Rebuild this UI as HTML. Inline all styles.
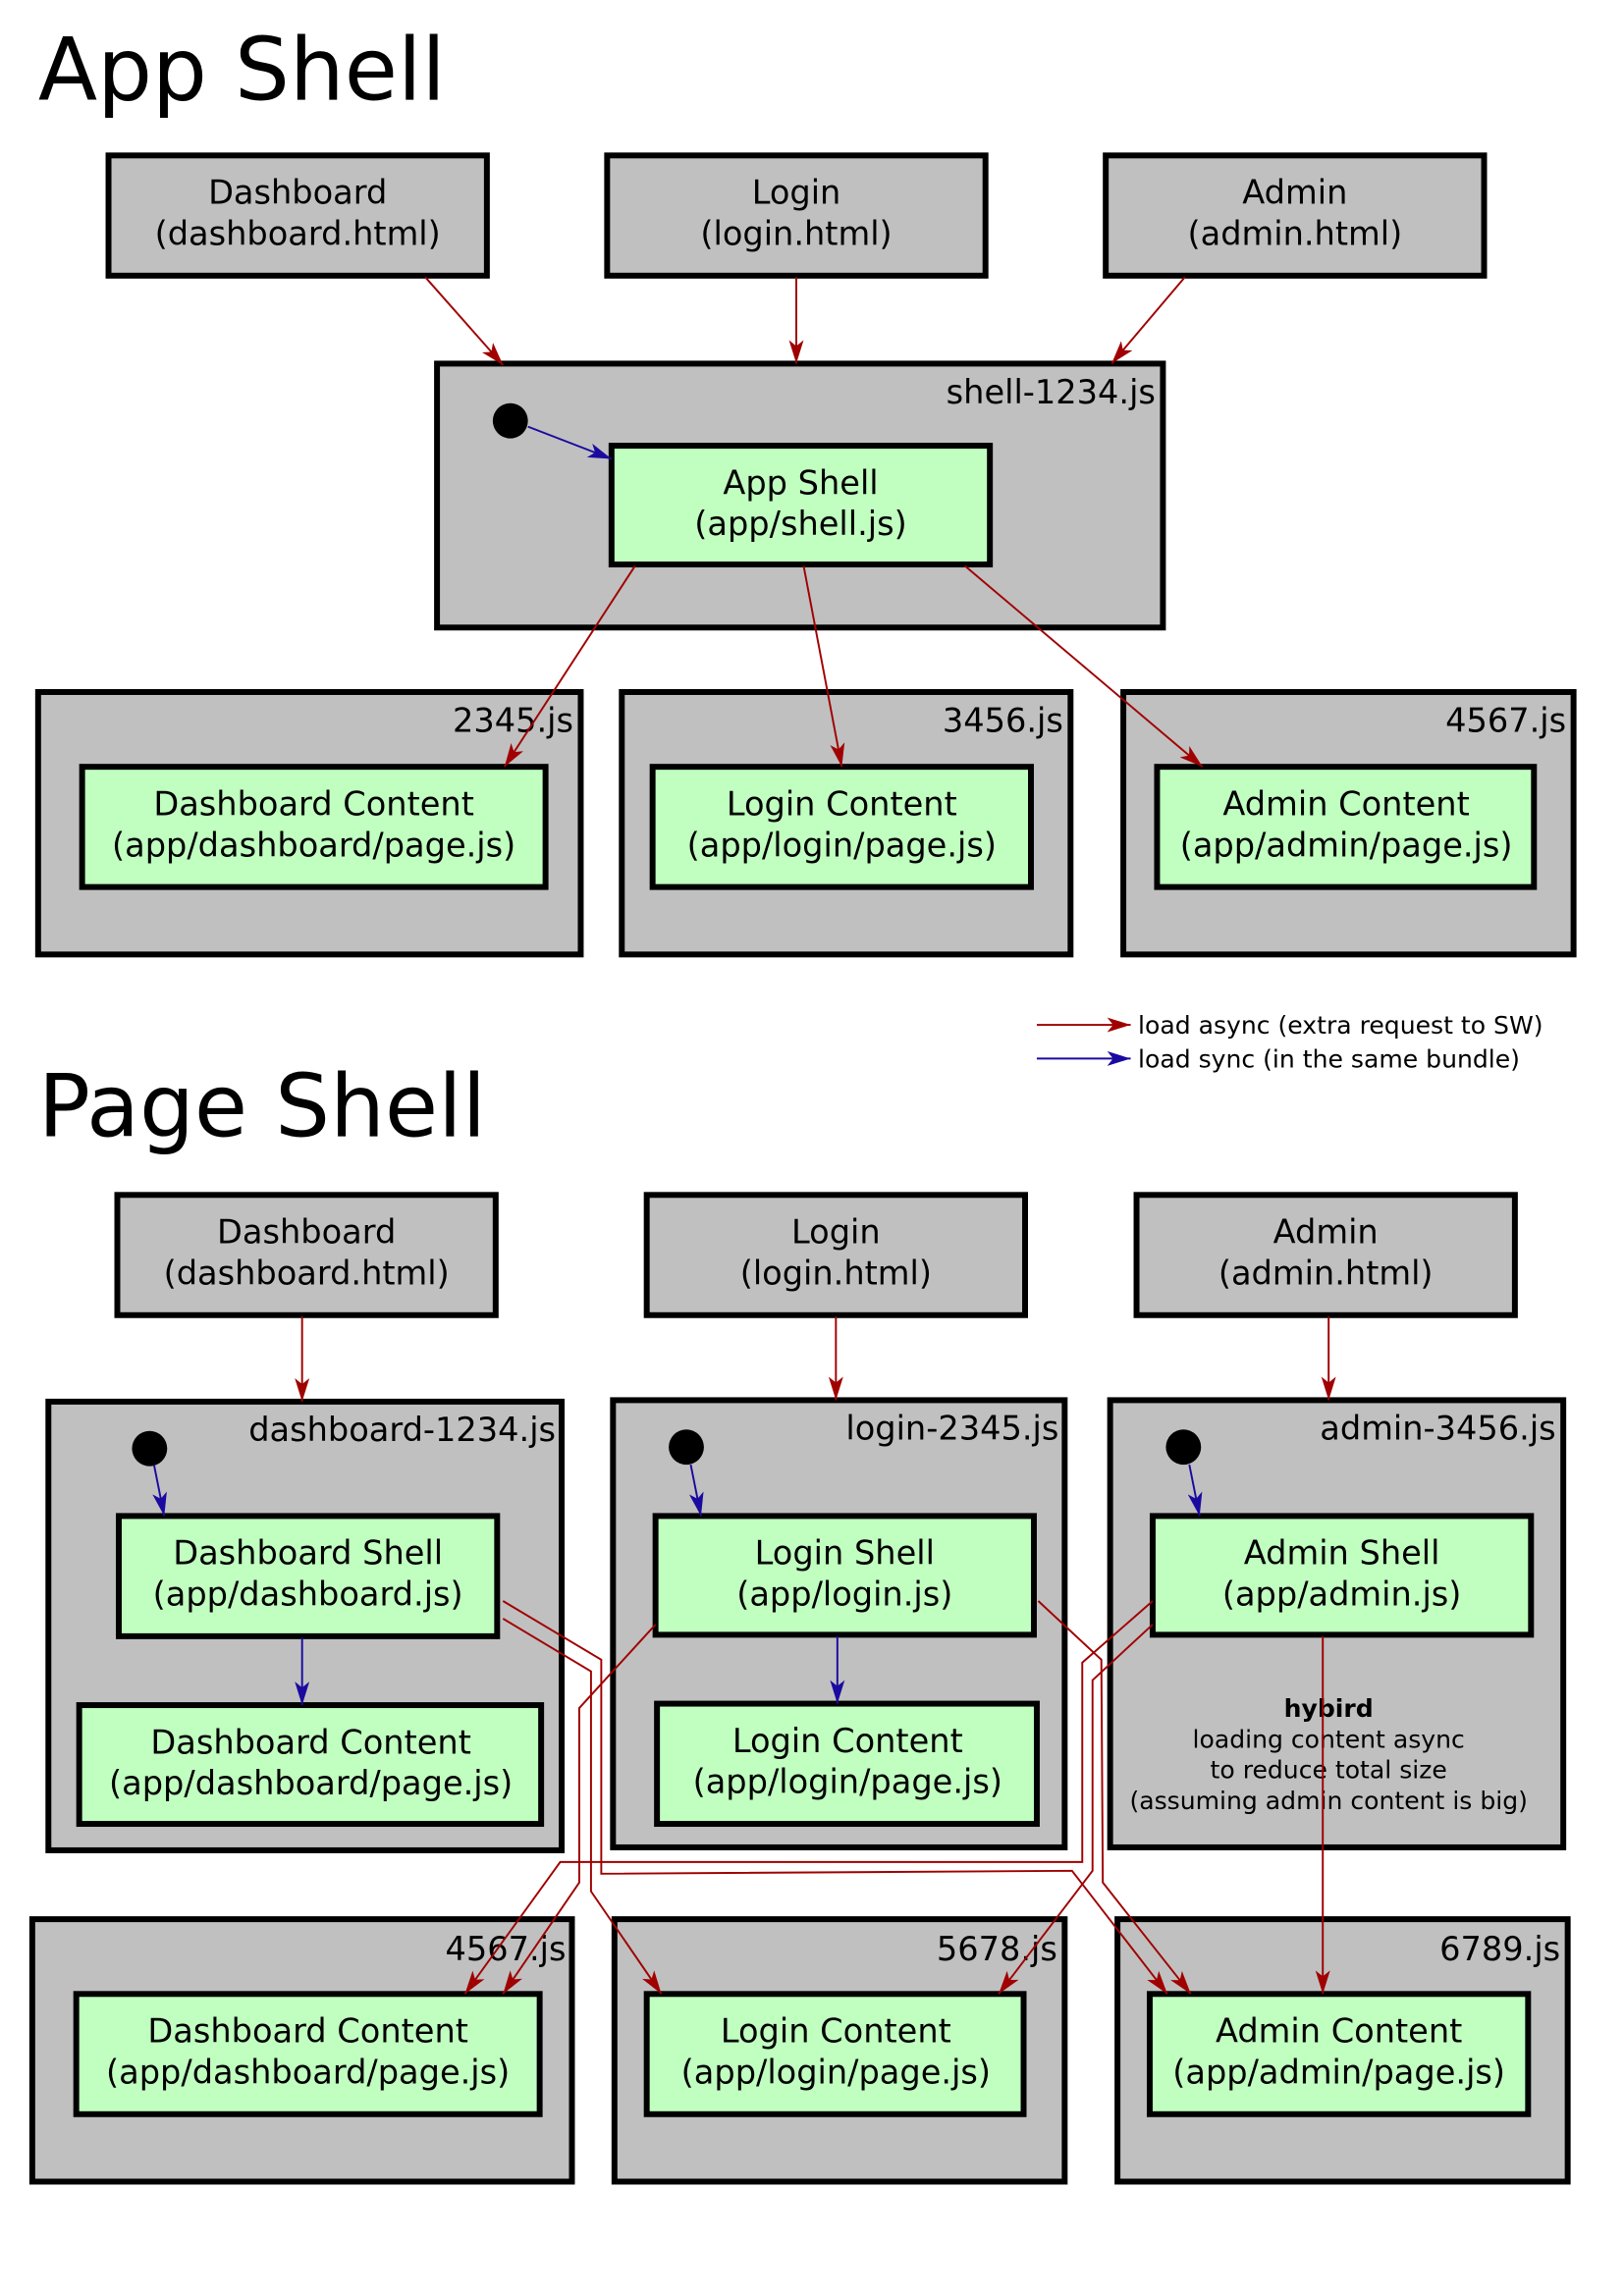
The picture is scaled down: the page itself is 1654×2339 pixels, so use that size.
<!DOCTYPE html>
<html><head><meta charset="utf-8"><style>
html,body{margin:0;padding:0;background:#fff;}
svg{display:block;}
text{font-family:"DejaVu Sans","Liberation Sans",sans-serif;fill:#000;}
</style></head><body>
<svg width="1654" height="2339" viewBox="0 0 1107.4 1566" xmlns="http://www.w3.org/2000/svg">
<defs>
<marker id="R" viewBox="0 0 16 10" refX="16" refY="5" markerWidth="16" markerHeight="10" orient="auto" markerUnits="userSpaceOnUse"><path d="M0,0 L16,5 L0,10 L4,5 z" fill="#a00000"/></marker>
<marker id="B" viewBox="0 0 16 10" refX="16" refY="5" markerWidth="16" markerHeight="10" orient="auto" markerUnits="userSpaceOnUse"><path d="M0,0 L16,5 L0,10 L4,5 z" fill="#1a0aa0"/></marker>
</defs>
<style>
.g{fill:#c0c0c0;stroke:#000;stroke-width:4}
.gr{fill:#c0ffc0;stroke:#000;stroke-width:4}
.t{font-size:22.5px;text-anchor:middle}
.l{font-size:22.5px;text-anchor:end}
.h{font-size:16.8px;text-anchor:middle}
.rl{fill:none;stroke:#a00000;stroke-width:1.3;marker-end:url(#R)}
.bl{fill:none;stroke:#1a0aa0;stroke-width:1.3;marker-end:url(#B)}
</style>

<text x="26" y="68" font-size="59">App Shell</text>

<rect class="g" x="74" y="106" width="258" height="82"/>
<text class="t" x="203" y="139">Dashboard</text><text class="t" x="203" y="167">(dashboard.html)</text>
<rect class="g" x="414" y="106" width="258" height="82"/>
<text class="t" x="543" y="139">Login</text><text class="t" x="543" y="167">(login.html)</text>
<rect class="g" x="754" y="106" width="258" height="82"/>
<text class="t" x="883" y="139">Admin</text><text class="t" x="883" y="167">(admin.html)</text>

<rect class="g" x="298" y="248" width="495" height="180"/>
<text class="l" x="788" y="275">shell-1234.js</text>
<circle cx="348" cy="287" r="12"/>
<rect class="gr" x="417" y="304" width="258" height="81"/>
<text class="t" x="546" y="337">App Shell</text><text class="t" x="546" y="365">(app/shell.js)</text>

<rect class="g" x="26" y="472" width="370" height="179"/>
<text class="l" x="391" y="499">2345.js</text>
<rect class="gr" x="56" y="523" width="316" height="82"/>
<text class="t" x="214" y="556">Dashboard Content</text><text class="t" x="214" y="584">(app/dashboard/page.js)</text>
<rect class="g" x="424" y="472" width="306" height="179"/>
<text class="l" x="725" y="499">3456.js</text>
<rect class="gr" x="445" y="523" width="258" height="82"/>
<text class="t" x="574" y="556">Login Content</text><text class="t" x="574" y="584">(app/login/page.js)</text>
<rect class="g" x="766" y="472" width="307" height="179"/>
<text class="l" x="1068" y="499">4567.js</text>
<rect class="gr" x="789" y="523" width="257" height="82"/>
<text class="t" x="918" y="556">Admin Content</text><text class="t" x="918" y="584">(app/admin/page.js)</text>

<path class="rl" d="M290,189 L343,249"/>
<path class="rl" d="M543,189 L543,248"/>
<path class="rl" d="M808,189 L758,248"/>
<path class="bl" d="M360,291 L417,313"/>
<path class="rl" d="M433,386 L344,523"/>
<path class="rl" d="M548,386 L574,523"/>
<path class="rl" d="M658,386 L820,523"/>

<path class="rl" d="M707,699 L771,699"/>
<text x="776" y="705" font-size="16.8">load async (extra request to SW)</text>
<path class="bl" d="M707,722 L771,722"/>
<text x="776" y="728" font-size="16.8">load sync (in the same bundle)</text>

<text x="26" y="775" font-size="59">Page Shell</text>

<rect class="g" x="80" y="815" width="258" height="82"/>
<text class="t" x="209" y="848">Dashboard</text><text class="t" x="209" y="876">(dashboard.html)</text>
<rect class="g" x="441" y="815" width="258" height="82"/>
<text class="t" x="570" y="848">Login</text><text class="t" x="570" y="876">(login.html)</text>
<rect class="g" x="775" y="815" width="258" height="82"/>
<text class="t" x="904" y="848">Admin</text><text class="t" x="904" y="876">(admin.html)</text>

<rect class="g" x="33" y="956" width="350" height="306"/>
<text class="l" x="379" y="983">dashboard-1234.js</text>
<circle cx="102" cy="988" r="12"/>
<rect class="gr" x="81" y="1034" width="258" height="82"/>
<text class="t" x="210" y="1067">Dashboard Shell</text><text class="t" x="210" y="1095">(app/dashboard.js)</text>
<rect class="gr" x="54" y="1163" width="315" height="81"/>
<text class="t" x="212" y="1196">Dashboard Content</text><text class="t" x="212" y="1224">(app/dashboard/page.js)</text>

<rect class="g" x="418" y="955" width="308" height="305"/>
<text class="l" x="722" y="982">login-2345.js</text>
<circle cx="468" cy="987" r="12"/>
<rect class="gr" x="447" y="1034" width="258" height="81"/>
<text class="t" x="576" y="1067">Login Shell</text><text class="t" x="576" y="1095">(app/login.js)</text>
<rect class="gr" x="448" y="1162" width="259" height="82"/>
<text class="t" x="578" y="1195">Login Content</text><text class="t" x="578" y="1223">(app/login/page.js)</text>

<rect class="g" x="757" y="955" width="309" height="305"/>
<text class="l" x="1061" y="982">admin-3456.js</text>
<circle cx="807" cy="987" r="12"/>
<rect class="gr" x="786" y="1034" width="258" height="81"/>
<text class="t" x="915" y="1067">Admin Shell</text><text class="t" x="915" y="1095">(app/admin.js)</text>
<text class="h" x="906" y="1171" font-weight="bold">hybird</text>
<text class="h" x="906" y="1192">loading content async</text>
<text class="h" x="906" y="1213">to reduce total size</text>
<text class="h" x="906" y="1234">(assuming admin content is big)</text>

<rect class="g" x="22" y="1309" width="368" height="179"/>
<text class="l" x="386" y="1337">4567.js</text>
<rect class="gr" x="52" y="1360" width="316" height="82"/>
<text class="t" x="210" y="1393">Dashboard Content</text><text class="t" x="210" y="1421">(app/dashboard/page.js)</text>
<rect class="g" x="419" y="1309" width="307" height="179"/>
<text class="l" x="721" y="1337">5678.js</text>
<rect class="gr" x="441" y="1360" width="257" height="82"/>
<text class="t" x="570" y="1393">Login Content</text><text class="t" x="570" y="1421">(app/login/page.js)</text>
<rect class="g" x="762" y="1309" width="307" height="179"/>
<text class="l" x="1064" y="1337">6789.js</text>
<rect class="gr" x="784" y="1360" width="258" height="82"/>
<text class="t" x="913" y="1393">Admin Content</text><text class="t" x="913" y="1421">(app/admin/page.js)</text>

<path class="rl" d="M206,898 L206,956"/>
<path class="rl" d="M570,898 L570,955"/>
<path class="rl" d="M906,898 L906,955"/>
<path class="bl" d="M105,999 L112,1034"/>
<path class="bl" d="M471,999 L478,1034"/>
<path class="bl" d="M811,999 L818,1034"/>
<path class="bl" d="M206,1117 L206,1163"/>
<path class="bl" d="M571,1116 L571,1162"/>

<path class="rl" d="M343,1092 L410,1132 L410,1278 L731,1276 L796,1360"/>
<path class="rl" d="M343,1104 L403,1140 L403,1290 L451,1360"/>
<path class="rl" d="M447,1108 L395,1165 L395,1284 L343,1360"/>
<path class="rl" d="M786,1092 L738,1134 L738,1270 L382,1270 L317,1360"/>
<path class="rl" d="M786,1108 L745,1146 L745,1276 L681,1360"/>
<path class="rl" d="M708,1092 L751,1132 L752,1284 L812,1360"/>
<path class="rl" d="M902,1116 L902,1360"/>
</svg>
</body></html>
